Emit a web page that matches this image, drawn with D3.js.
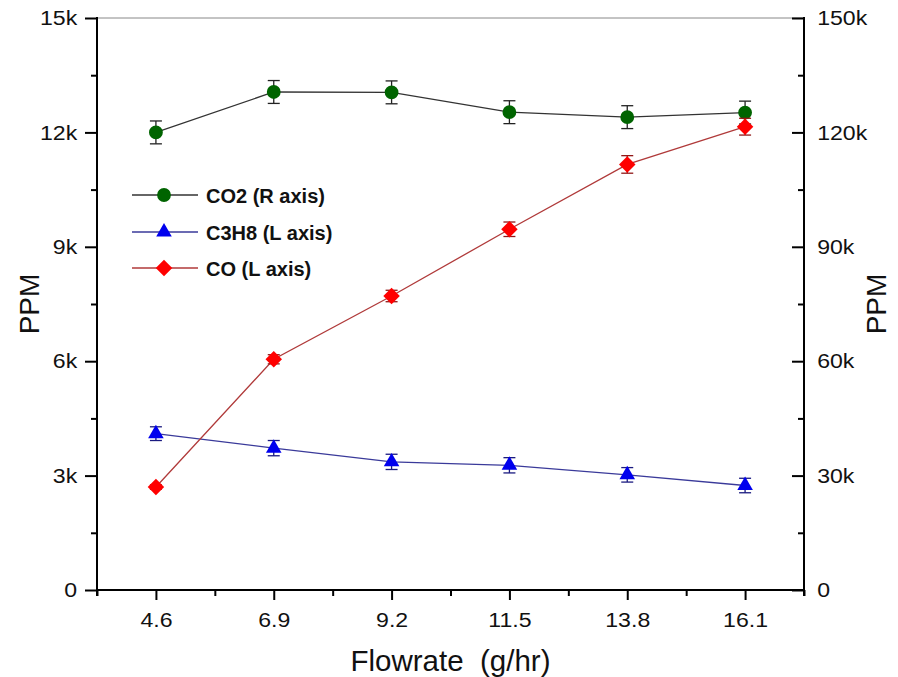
<!DOCTYPE html>
<html>
<head>
<meta charset="utf-8">
<script src="https://cdn.jsdelivr.net/npm/d3@7"></script>
<style>
  body { margin: 0; background: #fff; }
  svg { display: block; font-family: "Liberation Sans", Arial, sans-serif; }
</style>
</head>
<body>
<svg id="chart" width="898" height="677"></svg>
<script>
// Data
const flowrates = [4.6, 6.9, 9.2, 11.5, 13.8, 16.1];
const co2 = [120000, 130600, 130500, 125300, 124000, 125200];   // right axis
const co2Err = [3000, 3000, 3000, 3000, 3000, 3000];
const c3h8 = [4100, 3720, 3360, 3270, 3020, 2740];               // left axis
const c3h8Err = [180, 200, 200, 200, 190, 190];
const co = [2700, 6050, 7710, 9460, 11160, 12150];                // left axis
const coErr = [60, 120, 150, 190, 230, 220];
const leftTicks = [0, 3000, 6000, 9000, 12000, 15000];
const leftTickLabels = ["0", "3k", "6k", "9k", "12k", "15k"];
const rightTicks = [0, 30000, 60000, 90000, 120000, 150000];
const rightTickLabels = ["0", "30k", "60k", "90k", "120k", "150k"];
const legendLabels = ["CO2 (R axis)", "C3H8 (L axis)", "CO (L axis)"];

const svg = d3.select("#chart");
const L = 97, R = 804, T = 18, B = 590;
const TICK_FS = 21, TICK_SX = 1.1;

const x = d3.scaleLinear().domain([3.45, 17.25]).range([L, R]);
const yL = d3.scaleLinear().domain([0, 15000]).range([B, T]);
const yR = d3.scaleLinear().domain([0, 150000]).range([B, T]);

function styleTickText(g) {
  g.selectAll("text").attr("font-size", TICK_FS).attr("fill", "#111")
    .attr("font-family", "Liberation Sans, Arial, sans-serif")
    .attr("transform", `scale(${TICK_SX},1)`);
}

// top thin border
svg.append("line").attr("x1", L).attr("x2", R).attr("y1", T).attr("y2", T)
  .attr("stroke", "#888").attr("stroke-width", 1);

// Bottom axis
const xMajor = flowrates;
const xMinor = [3.45, 5.75, 8.05, 10.35, 12.65, 14.95, 17.25];
const gx = svg.append("g").attr("transform", `translate(0,${B})`);
gx.append("g").call(d3.axisBottom(x).tickValues(xMinor).tickSize(6).tickFormat(""))
  .call(g => g.select(".domain").remove())
  .selectAll("line").attr("stroke", "#000").attr("stroke-width", 2);
gx.append("g").call(d3.axisBottom(x).tickValues(xMajor).tickSize(10).tickPadding(12).tickFormat(d3.format(".1f")))
  .call(g => g.select(".domain").remove())
  .call(g => g.selectAll("line").attr("stroke", "#000").attr("stroke-width", 2))
  .call(styleTickText);
gx.append("line").attr("x1", L - 1).attr("x2", R + 1).attr("stroke", "#000").attr("stroke-width", 2);

// Left axis
const yMinorL = [1500, 4500, 7500, 10500, 13500];
const gl = svg.append("g").attr("transform", `translate(${L},0)`);
gl.append("g").call(d3.axisLeft(yL).tickValues(yMinorL).tickSize(6).tickFormat(""))
  .call(g => g.select(".domain").remove())
  .selectAll("line").attr("stroke", "#000").attr("stroke-width", 2);
gl.append("g").call(d3.axisLeft(yL).tickValues(leftTicks).tickSize(12).tickPadding(6)
    .tickFormat((d, i) => leftTickLabels[i]))
  .call(g => g.select(".domain").remove())
  .call(g => g.selectAll("line").attr("stroke", "#000").attr("stroke-width", 2))
  .call(styleTickText);
gl.append("line").attr("y1", T - 1).attr("y2", B + 6).attr("stroke", "#000").attr("stroke-width", 2);

// Right axis (ticks pointing inward)
const yMinorR = [15000, 45000, 75000, 105000, 135000];
const gr = svg.append("g").attr("transform", `translate(${R},0)`);
gr.append("g").call(d3.axisRight(yR).tickValues(yMinorR).tickSize(-6).tickFormat(""))
  .call(g => g.select(".domain").remove())
  .selectAll("line").attr("stroke", "#000").attr("stroke-width", 2);
gr.append("g").call(d3.axisRight(yR).tickValues(rightTicks).tickSize(-12).tickPadding(14)
    .tickFormat((d, i) => rightTickLabels[i]))
  .call(g => g.select(".domain").remove())
  .call(g => g.selectAll("line").attr("stroke", "#000").attr("stroke-width", 2))
  .call(styleTickText)
  .call(g => g.selectAll("text").attr("x", 12));
gr.append("line").attr("y1", T - 1).attr("y2", B + 6).attr("stroke", "#000").attr("stroke-width", 2);

// Axis titles
svg.append("text").attr("transform", `translate(39,${(T + B) / 2}) rotate(-90)`)
  .attr("text-anchor", "middle").attr("font-size", 28).attr("fill", "#111").text("PPM");
svg.append("text").attr("transform", `translate(886,${(T + B) / 2}) rotate(-90)`)
  .attr("text-anchor", "middle").attr("font-size", 28).attr("fill", "#111").text("PPM");
svg.append("text").attr("x", (L + R) / 2).attr("y", 671).attr("text-anchor", "middle")
  .attr("font-size", 29.5).attr("fill", "#111").attr("xml:space", "preserve").style("white-space", "pre")
  .text("Flowrate  (g/hr)");

// Series
const diamond = d3.symbol().type(d3.symbolSquare).size(136);
const series = [
  { vals: co2, err: co2Err, y: yR, line: "#333", fill: "#006400", ebar: "#222", sym: d3.symbol().type(d3.symbolCircle).size(150), rot: 0 },
  { vals: c3h8, err: c3h8Err, y: yL, line: "#3a3a9a", fill: "#0000ee", ebar: "#1a1a80", sym: d3.symbol().type(d3.symbolTriangle).size(105), rot: 0 },
  { vals: co, err: coErr, y: yL, line: "#b03a3a", fill: "#ff0000", ebar: "#901818", sym: diamond, rot: 45 }
];

series.forEach(s => {
  const g = svg.append("g");
  const line = d3.line().x((d, i) => x(flowrates[i])).y(d => s.y(d));
  g.append("path").datum(s.vals).attr("d", line).attr("fill", "none")
    .attr("stroke", s.line).attr("stroke-width", 1.3);
  // error bars
  s.vals.forEach((v, i) => {
    const cx = x(flowrates[i]);
    const y1 = s.y(v + s.err[i]), y2 = s.y(v - s.err[i]);
    g.append("line").attr("x1", cx).attr("x2", cx).attr("y1", y1).attr("y2", y2)
      .attr("stroke", s.ebar).attr("stroke-width", 1.3);
    [y1, y2].forEach(yy => g.append("line").attr("x1", cx - 6).attr("x2", cx + 6)
      .attr("y1", yy).attr("y2", yy).attr("stroke", s.ebar).attr("stroke-width", 1.3));
  });
  g.selectAll("path.m").data(s.vals).join("path").attr("class", "m")
    .attr("d", s.sym())
    .attr("transform", (d, i) => `translate(${x(flowrates[i])},${s.y(d)}) rotate(${s.rot})`)
    .attr("fill", s.fill);
});

// Legend
const legY = [195, 232, 268];
series.forEach((s, i) => {
  const g = svg.append("g").attr("transform", `translate(0,${legY[i]})`);
  g.append("line").attr("x1", 132).attr("x2", 198).attr("stroke", s.line).attr("stroke-width", 1.3);
  g.append("path").attr("d", s.sym()).attr("transform", `translate(164,0) rotate(${s.rot})`).attr("fill", s.fill);
  g.append("text").attr("x", 206).attr("y", 7.5).attr("font-size", 20).attr("font-weight", "bold")
    .attr("fill", "#111").text(legendLabels[i]);
});
</script>
</body>
</html>
